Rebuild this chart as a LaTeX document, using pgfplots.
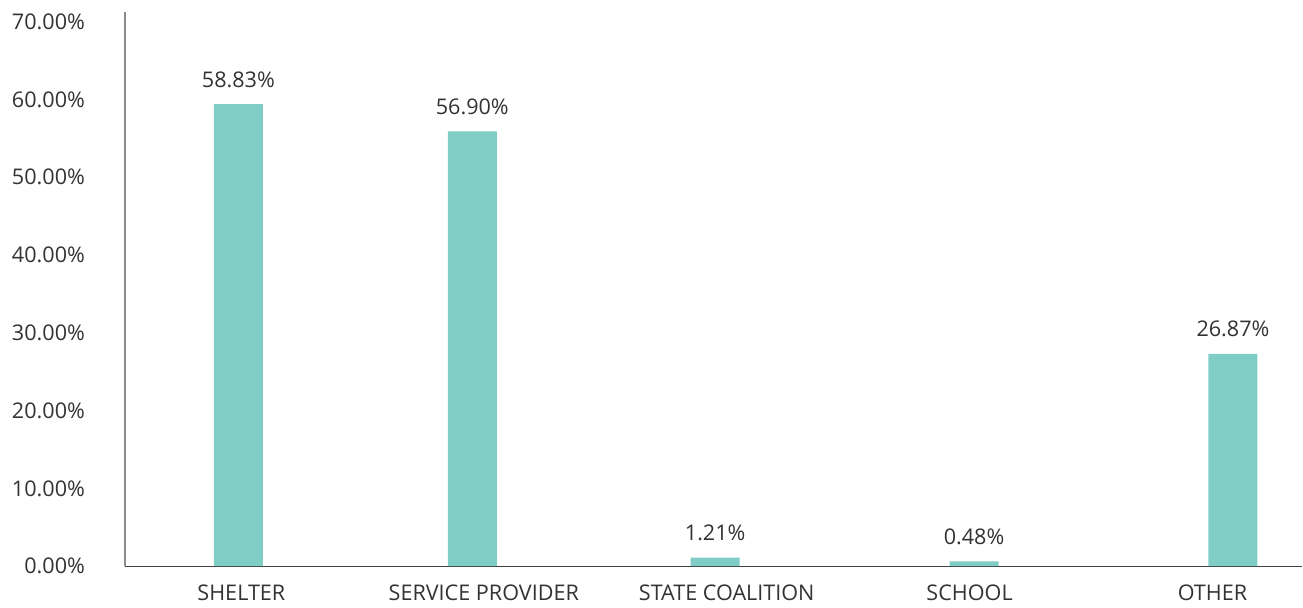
\documentclass[border=0pt]{standalone}
\usepackage{pgfplots}
\pgfplotsset{compat=1.18}
\usepackage{fontspec}
\setmainfont{Open Sans}
\definecolor{barc}{HTML}{7FCDC4}
\definecolor{txt}{HTML}{333333}
\definecolor{yline}{HTML}{8C8C8C}
\definecolor{xline}{HTML}{404040}
\begin{document}
\begin{tikzpicture}
\begin{axis}[
  x=0.5pt, y=3.89pt,
  xmin=125, xmax=1303, ymin=0, ymax=71.2,
  ybar, bar width=49,
  axis x line=bottom, axis y line=left,
  x axis line style={-, draw=xline, line width=0.6pt},
  y axis line style={-, draw=yline, line width=0.6pt},
  major tick length=0,
  clip=false,
  /pgf/number format/assume math mode=true,
  tick label style={font=\fontsize{10.8}{13}\selectfont, text=txt},
  ytick={0,10,...,70},
  yticklabel={\pgfmathprintnumber[fixed,fixed zerofill,precision=2]{\tick}\%},
  yticklabel style={xshift=-16.5pt},
  xtick={241.5,484,727,970,1213},
  xticklabels={SHELTER,SERVICE PROVIDER,STATE COALITION,SCHOOL,OTHER},
  xticklabel style={yshift=-6pt},
  nodes near coords,
  point meta=explicit symbolic,
  every node near coord/.append style={font=\fontsize{10.8}{13}\selectfont, text=txt, anchor=base, yshift=8.5pt},
]
\addplot[fill=barc, draw=none] coordinates {
  (238.5,59.4) [58.83\%]
  (472.5,55.9) [56.90\%]
  (715.5,1.1) [1.21\%]
  (974.5,0.6) [0.48\%]
  (1233.5,27.3) [26.87\%]
};
\path (axis cs:0,-4.85) rectangle (axis cs:1303,72.8);
\end{axis}
\end{tikzpicture}
\end{document}
